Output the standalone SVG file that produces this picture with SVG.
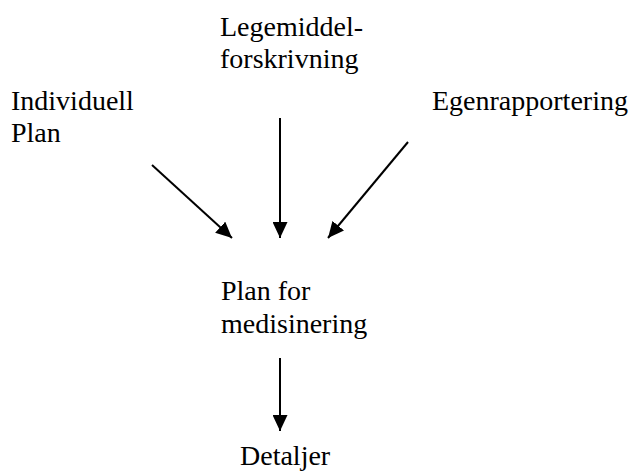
<svg xmlns="http://www.w3.org/2000/svg" width="634" height="472" viewBox="0 0 634 472">
  <defs>
    <marker id="arrow" markerUnits="userSpaceOnUse" markerWidth="16" markerHeight="15" refX="16" refY="7.5" orient="auto">
      <path d="M0,0 L16,7.5 L0,15 Z" fill="#000"/>
    </marker>
    <style>
      text { font-family: "Liberation Serif", "Times New Roman", serif; font-size: 28px; fill: #000; }
      .edge { stroke: #000; stroke-width: 2; fill: none; marker-end: url(#arrow); }
    </style>
  </defs>
  <rect width="634" height="472" fill="#fff"/>

  <g id="legemiddel">
    <text x="220" y="36">Legemiddel-</text>
    <text x="220" y="68">forskrivning</text>
  </g>
  <g id="individuell">
    <text x="11" y="110">Individuell</text>
    <text x="11" y="142">Plan</text>
  </g>
  <g id="egenrapportering">
    <text x="432" y="110">Egenrapportering</text>
  </g>
  <g id="plan">
    <text x="221" y="300">Plan for</text>
    <text x="221" y="333">medisinering</text>
  </g>
  <g id="detaljer">
    <text x="240" y="465">Detaljer</text>
  </g>

  <g id="connectors">
    <line class="edge" x1="152" y1="165" x2="232" y2="238"/>
    <line class="edge" x1="280" y1="118" x2="280" y2="238"/>
    <line class="edge" x1="408" y1="142" x2="328" y2="238"/>
    <line class="edge" x1="280" y1="358" x2="280" y2="431"/>
  </g>
</svg>
